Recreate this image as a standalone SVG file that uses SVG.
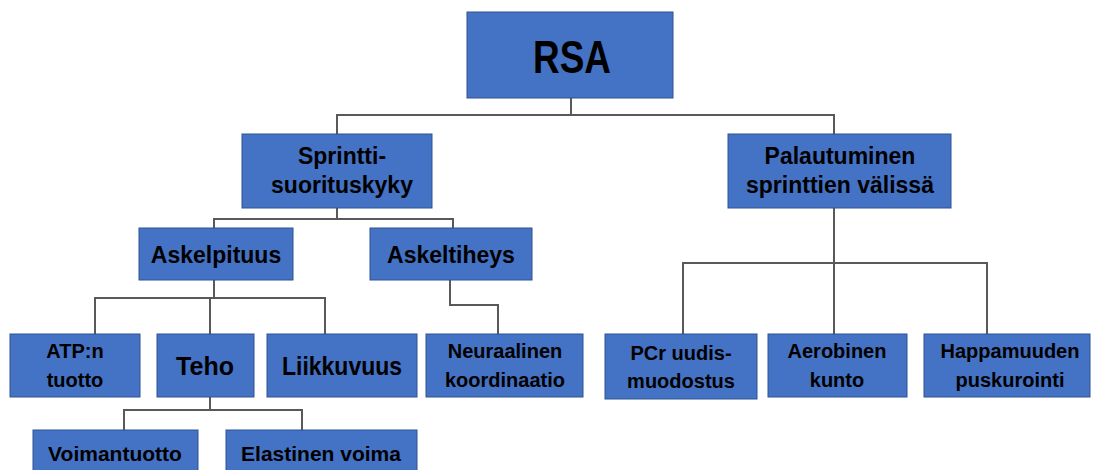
<svg xmlns="http://www.w3.org/2000/svg" width="1098" height="470" viewBox="0 0 1098 470">
<style>
.box{fill:#4472C4;stroke:#2F528F;stroke-width:1}
.t{font-family:"Liberation Sans",Arial,sans-serif;font-weight:bold;fill:#000;text-anchor:middle}
.c{fill:none;stroke:#595959;stroke-width:2}
</style>
<rect width="1098" height="470" fill="#fff"/>
<g id="connectors">
<path class="c" d="M571 98V115M337 134V115H834V134"/>
<path class="c" d="M337 208V219M214 228V219H453V228"/>
<path class="c" d="M214 280V298M95 334V298H325V334M210 298V334"/>
<path class="c" d="M450 280V305H498V334"/>
<path class="c" d="M834 208V334M683 334V263H987V334"/>
<path class="c" d="M210 397V410M124 430V410H302V430"/>
</g>
<g id="n-rsa"><rect class="box" x="467" y="12" width="206" height="86"/><text class="t" x="572" y="73" font-size="46" textLength="78" lengthAdjust="spacingAndGlyphs">RSA</text></g>
<g id="n-sprintti"><rect class="box" x="242" y="134" width="190" height="74"/><text class="t" x="342" y="164" font-size="23">Sprintti-</text><text class="t" x="342" y="193" font-size="23">suorituskyky</text></g>
<g id="n-palautuminen"><rect class="box" x="728" y="134" width="223" height="74"/><text class="t" x="840" y="164" font-size="23">Palautuminen</text><text class="t" x="840" y="193" font-size="23">sprinttien välissä</text></g>
<g id="n-askelpituus"><rect class="box" x="139" y="228" width="154" height="52"/><text class="t" x="216" y="263" font-size="23">Askelpituus</text></g>
<g id="n-askeltiheys"><rect class="box" x="370" y="228" width="162" height="52"/><text class="t" x="451" y="263" font-size="23">Askeltiheys</text></g>
<g id="n-atp"><rect class="box" x="10" y="334" width="130" height="63"/><text class="t" x="75" y="358" font-size="20">ATP:n</text><text class="t" x="75" y="387" font-size="20">tuotto</text></g>
<g id="n-teho"><rect class="box" x="157" y="334" width="97" height="63"/><text class="t" x="205" y="375" font-size="25">Teho</text></g>
<g id="n-liikkuvuus"><rect class="box" x="267" y="334" width="150" height="63"/><text class="t" x="342" y="375" font-size="25" textLength="120" lengthAdjust="spacingAndGlyphs">Liikkuvuus</text></g>
<g id="n-neuraalinen"><rect class="box" x="426" y="334" width="157" height="63"/><text class="t" x="505" y="358" font-size="20">Neuraalinen</text><text class="t" x="505" y="387" font-size="20">koordinaatio</text></g>
<g id="n-pcr"><rect class="box" x="605" y="334" width="152" height="65"/><text class="t" x="681" y="360" font-size="20">PCr uudis-</text><text class="t" x="681" y="388" font-size="20">muodostus</text></g>
<g id="n-aerobinen"><rect class="box" x="768" y="334" width="139" height="63"/><text class="t" x="837" y="358" font-size="20">Aerobinen</text><text class="t" x="837" y="387" font-size="20">kunto</text></g>
<g id="n-happamuuden"><rect class="box" x="924" y="334" width="166" height="63"/><text class="t" x="1010" y="358" font-size="20">Happamuuden</text><text class="t" x="1010" y="387" font-size="20">puskurointi</text></g>
<g id="n-voimantuotto"><rect class="box" x="33" y="430" width="165" height="45"/><text class="t" x="115" y="461" font-size="21">Voimantuotto</text></g>
<g id="n-elastinen"><rect class="box" x="226" y="430" width="191" height="45"/><text class="t" x="321" y="461" font-size="21">Elastinen voima</text></g>
</svg>
